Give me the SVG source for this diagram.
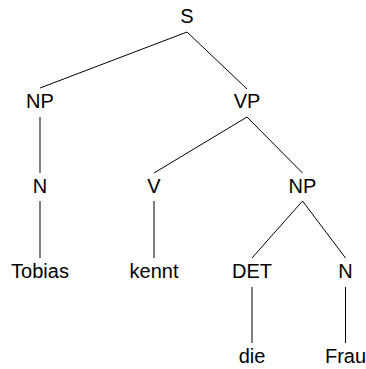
<svg xmlns="http://www.w3.org/2000/svg" width="366" height="369" viewBox="0 0 366 369">
<style>
text{font-family:"Liberation Sans",Arial,sans-serif;font-size:20px;fill:#000;text-anchor:middle}
line{stroke:#000;stroke-width:1}
</style>
<rect width="366" height="369" fill="#fff"/>
<g id="connectors">
<line x1="187" y1="32" x2="40" y2="88"/>
<line x1="187" y1="32" x2="247" y2="89"/>
<line x1="40" y1="117" x2="40" y2="173"/>
<line x1="247" y1="117" x2="154" y2="173"/>
<line x1="247" y1="117" x2="302.5" y2="173"/>
<line x1="40" y1="201" x2="40" y2="258"/>
<line x1="154" y1="201" x2="154" y2="258"/>
<line x1="302.5" y1="201" x2="252" y2="258"/>
<line x1="302.5" y1="201" x2="345.5" y2="258"/>
<line x1="252" y1="287" x2="252" y2="343"/>
<line x1="345.5" y1="287" x2="345.5" y2="343"/>
</g>
<g id="S"><text x="187" y="23">S</text></g>
<g id="NP1"><text x="40" y="108">NP</text></g>
<g id="VP"><text x="247" y="108">VP</text></g>
<g id="N1"><text x="40" y="193">N</text></g>
<g id="V"><text x="154" y="193">V</text></g>
<g id="NP2"><text x="302.5" y="193">NP</text></g>
<g id="Tobias"><text x="40" y="278">Tobias</text></g>
<g id="kennt"><text x="154" y="278">kennt</text></g>
<g id="DET"><text x="252" y="278">DET</text></g>
<g id="N2"><text x="345.5" y="278">N</text></g>
<g id="die"><text x="252" y="363">die</text></g>
<g id="Frau"><text x="345.5" y="363">Frau</text></g>
</svg>
